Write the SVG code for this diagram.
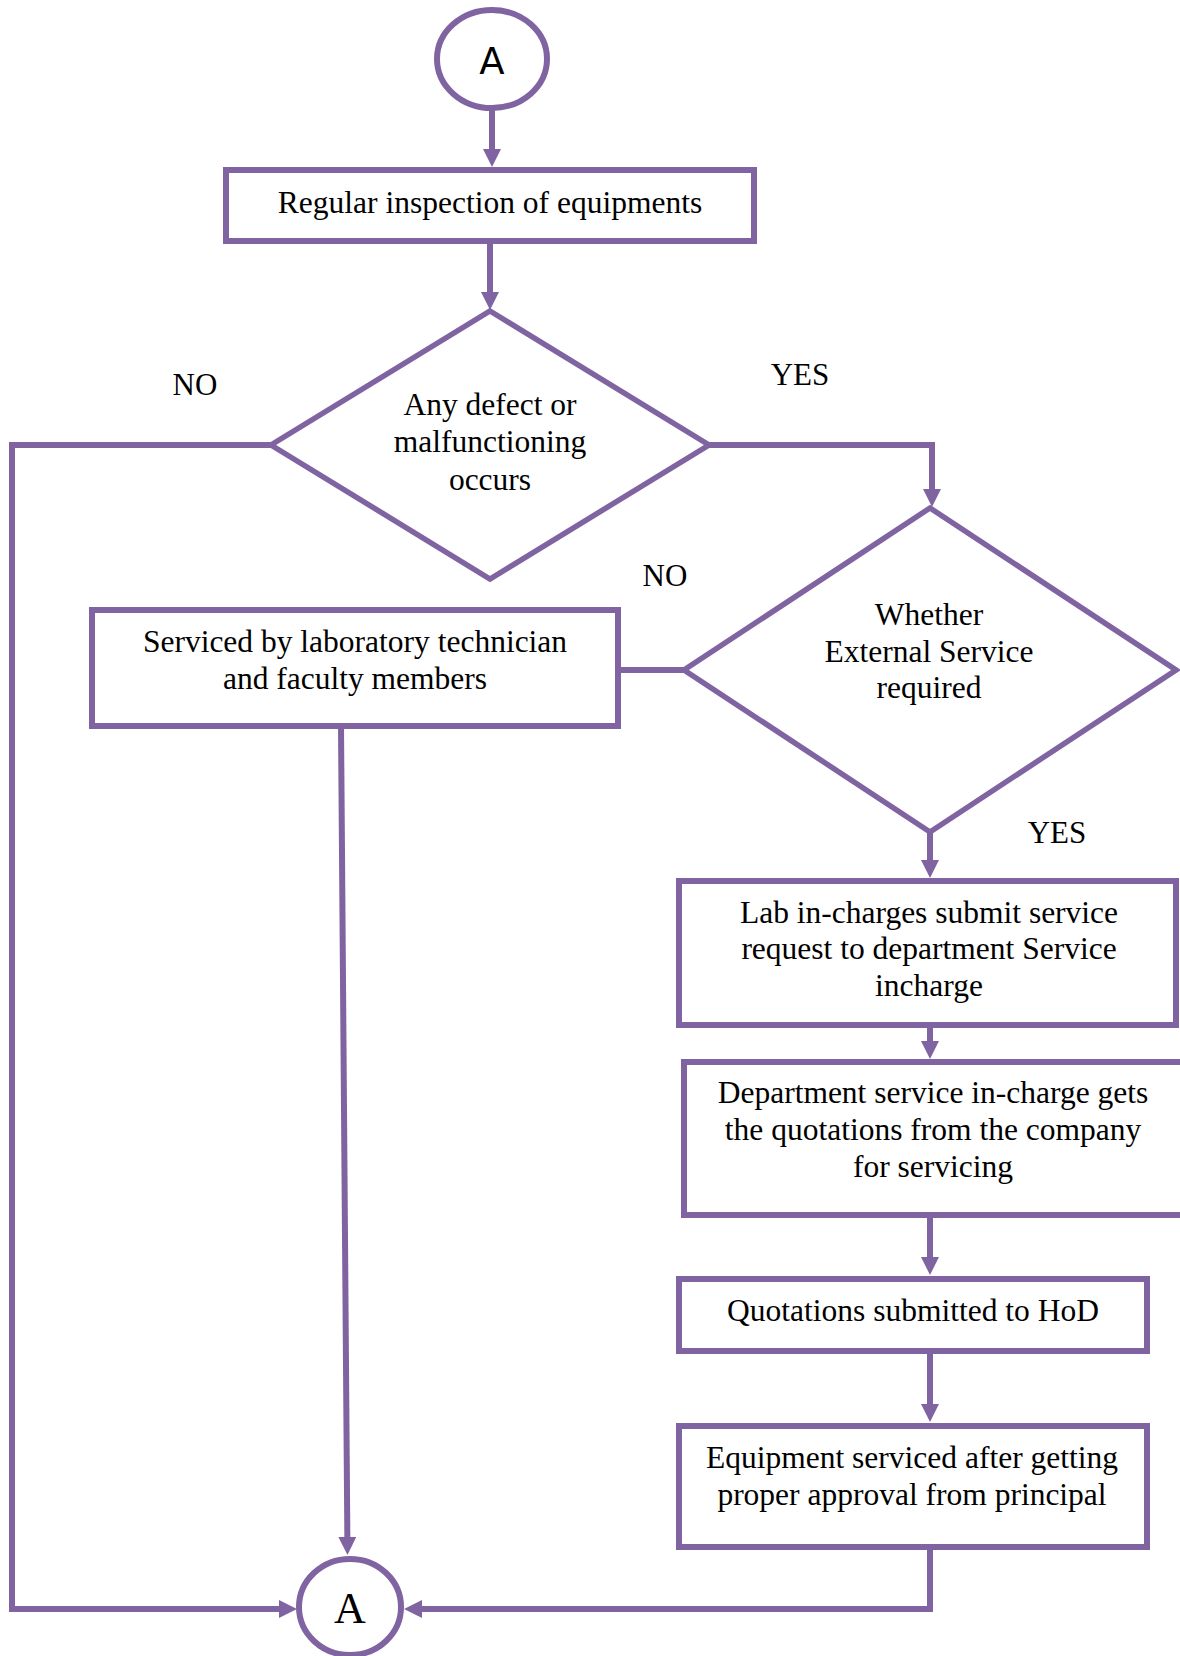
<svg xmlns="http://www.w3.org/2000/svg" width="1180" height="1656" viewBox="0 0 1180 1656">
<style>
.shape{fill:#fff;stroke:#8064A2;stroke-width:6}
.dia{fill:#fff;stroke:#8064A2;stroke-width:5.5}
.conn{fill:none;stroke:#8064A2;stroke-width:6}
.t{font-family:"Liberation Serif","Times New Roman",serif;font-size:31.5px;fill:#000;text-anchor:middle}
.lbl{font-family:"Liberation Serif","Times New Roman",serif;font-size:31px;fill:#000;text-anchor:middle}
</style>
<defs>
<marker id="arr" viewBox="0 0 18 18" refX="8" refY="9" markerWidth="18" markerHeight="18" markerUnits="userSpaceOnUse" orient="auto">
<path d="M0,0 L18,9 L0,18 z" fill="#8064A2"/>
</marker>
</defs>
<rect width="1180" height="1656" fill="#fff"/>
<g id="connectors">
<line class="conn" x1="492" y1="110" x2="492" y2="157" marker-end="url(#arr)"/>
<line class="conn" x1="490" y1="241" x2="490" y2="300" marker-end="url(#arr)"/>
<polyline class="conn" points="271,445 12,445 12,1609 287,1609" marker-end="url(#arr)"/>
<polyline class="conn" points="709,445 932,445 932,497" marker-end="url(#arr)"/>
<line class="conn" x1="684" y1="670" x2="618" y2="670"/>
<line class="conn" x1="341" y1="726" x2="347.4" y2="1545" marker-end="url(#arr)"/>
<line class="conn" x1="930" y1="832" x2="930" y2="868" marker-end="url(#arr)"/>
<line class="conn" x1="930" y1="1025" x2="930" y2="1049" marker-end="url(#arr)"/>
<line class="conn" x1="930" y1="1215" x2="930" y2="1265" marker-end="url(#arr)"/>
<line class="conn" x1="930" y1="1351" x2="930" y2="1412" marker-end="url(#arr)"/>
<polyline class="conn" points="930,1547 930,1609 414,1609" marker-end="url(#arr)"/>
</g>
<g id="startA">
<ellipse class="shape" cx="492" cy="59" rx="55" ry="49" stroke-width="5.5"/>
<text x="492" y="74" font-family="'DejaVu Sans','Liberation Sans',sans-serif" font-size="37" text-anchor="middle" fill="#000">A</text>
</g>
<g id="inspection">
<rect class="shape" x="226" y="170" width="528" height="71"/>
<text class="t" x="490" y="213">Regular inspection of equipments</text>
</g>
<g id="defect">
<polygon class="dia" points="490,311 709,445 490,579 271,445"/>
<text class="t" x="490" y="415">Any defect or</text>
<text class="t" x="490" y="452">malfunctioning</text>
<text class="t" x="490" y="490">occurs</text>
</g>
<g id="external">
<polygon class="dia" points="930,508 1176,670 930,832 684,670"/>
<text class="t" x="929" y="625">Whether</text>
<text class="t" x="929" y="662">External Service</text>
<text class="t" x="929" y="698">required</text>
</g>
<g id="inhouse">
<rect class="shape" x="92" y="610" width="526" height="116"/>
<text class="t" x="355" y="652">Serviced by laboratory technician</text>
<text class="t" x="355" y="689">and faculty members</text>
</g>
<g id="request">
<rect class="shape" x="679" y="881" width="497" height="144"/>
<text class="t" x="929" y="923">Lab in-charges submit service</text>
<text class="t" x="929" y="959">request to department Service</text>
<text class="t" x="929" y="996">incharge</text>
</g>
<g id="quotations">
<rect class="shape" x="684" y="1062" width="510" height="153"/>
<text class="t" x="933" y="1103">Department service in-charge gets</text>
<text class="t" x="933" y="1140">the quotations from the company</text>
<text class="t" x="933" y="1177">for servicing</text>
</g>
<g id="hod">
<rect class="shape" x="679" y="1279" width="468" height="72"/>
<text class="t" x="913" y="1321">Quotations submitted to HoD</text>
</g>
<g id="serviced">
<rect class="shape" x="679" y="1426" width="468" height="121"/>
<text class="t" x="912" y="1468">Equipment serviced after getting</text>
<text class="t" x="912" y="1505">proper approval from principal</text>
</g>
<g id="endA">
<ellipse class="shape" cx="350" cy="1607" rx="51" ry="48" stroke-width="5.5"/>
<text x="350" y="1623" font-family="'Liberation Serif','Times New Roman',serif" font-size="44" text-anchor="middle" fill="#000">A</text>
</g>
<g id="labels">
<text class="lbl" x="195" y="395">NO</text>
<text class="lbl" x="800" y="385">YES</text>
<text class="lbl" x="665" y="586">NO</text>
<text class="lbl" x="1057" y="843">YES</text>
</g>
</svg>
